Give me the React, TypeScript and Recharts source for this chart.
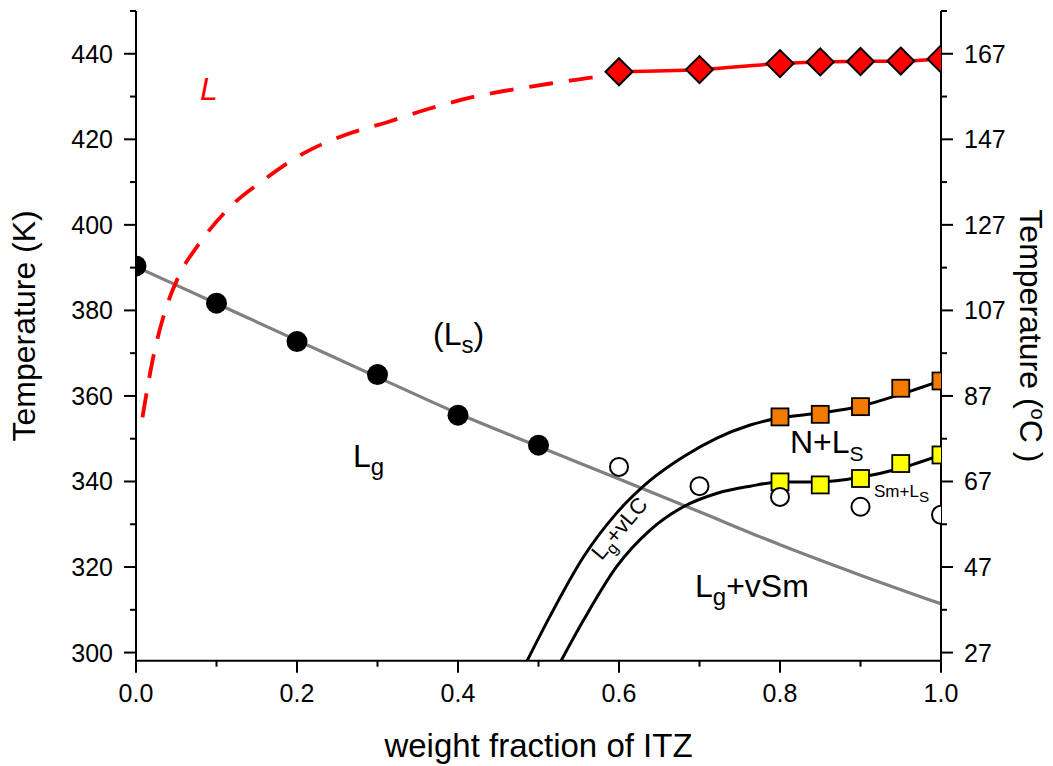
import React from 'react';
import { ComposedChart, Line, XAxis, YAxis, ReferenceDot } from 'recharts';

const FONT = '"Liberation Sans", Arial, Helvetica, sans-serif';

// weight fraction of ITZ (x) and temperature in K (t)
const lgX = [0, 0.1, 0.2, 0.3, 0.4, 0.5];
const lgT = [390.4, 381.7, 372.7, 365.0, 355.5, 348.5];

const openX = [0.6, 0.7, 0.8, 0.9, 1.0];
const openT = [343.4, 338.9, 336.4, 334.1, 332.2];

const grayX = [0, 0.1, 0.2, 0.3, 0.4, 0.5, 0.6, 0.7, 0.8, 0.9, 1.0];
const grayT = [390.2, 381.6, 373.0, 364.4, 355.9, 348.2, 340.6, 332.9, 325.2, 318.1, 311.4];

const sqX = [0.8, 0.85, 0.9, 0.95, 1.0];
const orangeT = [355.1, 355.7, 357.5, 361.8, 363.5];
const yellowT = [339.9, 339.2, 340.7, 344.2, 346.2];

const nCurveX = [0.483, 0.514, 0.556, 0.597, 0.639, 0.68, 0.721, 0.763, 0.8, 0.85, 0.9, 0.95, 1.0];
const nCurveT = [297, 308.4, 322.4, 332.6, 340.3, 345.8, 350.1, 353.2, 354.9, 356.0, 357.6, 360.4, 363.6];

const smCurveX = [0.525, 0.556, 0.597, 0.639, 0.68, 0.721, 0.763, 0.8, 0.85, 0.9, 0.95, 1.0];
const smCurveT = [297, 307.6, 320.1, 328.7, 334.1, 337.2, 338.9, 339.9, 339.9, 341.0, 343.1, 346.2];

const redX = [0.6, 0.7, 0.8, 0.85, 0.9, 0.95, 1.0];
const redT = [435.8, 436.3, 437.7, 438.1, 438.2, 438.3, 438.8];

const dashX = [0.008, 0.0228, 0.034, 0.0546, 0.0754, 0.117, 0.158, 0.208, 0.258, 0.312, 0.365, 0.419, 0.473, 0.527, 0.58, 0.6];
const dashT = [355.0, 370.3, 378.5, 388.6, 394.8, 404.2, 410.4, 416.7, 420.9, 424.0, 427.2, 429.9, 431.8, 433.4, 434.9, 435.7];

const xTicks = [0, 0.1, 0.2, 0.3, 0.4, 0.5, 0.6, 0.7, 0.8, 0.9, 1.0];
const kTicks = [300, 310, 320, 330, 340, 350, 360, 370, 380, 390, 400, 410, 420, 430, 440, 450];
const cTicks = [27, 37, 47, 57, 67, 77, 87, 97, 107, 117, 127, 137, 147, 157, 167, 177];

const X_DOMAIN = [0, 1];

const zip = (xs: number[], ts: number[]) => xs.map((x, i) => ({ x, t: ts[i] }));

const tickText = { fontFamily: FONT, fontSize: 25, fill: '#000' };

function XTick({ x, y, payload }: any) {
  const v = payload.value as number;
  const major = Math.round(v * 10) % 2 === 0;
  return (
    <g>
      <line x1={x} x2={x} y1={y} y2={y + (major ? 12 : 6)} stroke="#000" strokeWidth={2} />
      {major && (
        <text x={x} y={y + 41} textAnchor="middle" {...tickText}>
          {v.toFixed(1)}
        </text>
      )}
    </g>
  );
}

function LeftTick({ x, y, payload }: any) {
  const v = payload.value as number;
  const major = v % 20 === 0;
  return (
    <g>
      <line x1={x - (major ? 12 : 6)} x2={x} y1={y} y2={y} stroke="#000" strokeWidth={2} />
      {major && (
        <text x={x - 23} y={y} dy="0.36em" textAnchor="end" {...tickText}>
          {v}
        </text>
      )}
    </g>
  );
}

function RightTick({ x, y, payload }: any) {
  const c = Math.round(payload.value - 273);
  const major = (c - 27) % 20 === 0;
  return (
    <g>
      <line x1={x} x2={x + (major ? 12 : 6)} y1={y} y2={y} stroke="#000" strokeWidth={2} />
      {major && (
        <text x={x + 23} y={y} dy="0.36em" textAnchor="start" {...tickText}>
          {c}
        </text>
      )}
    </g>
  );
}

function XTitle({ viewBox }: any) {
  if (!viewBox) return null;
  return (
    <text x={viewBox.x + viewBox.width / 2} y={viewBox.y + 96} textAnchor="middle" fontFamily={FONT} fontSize={33} fill="#000">
      weight fraction of ITZ
    </text>
  );
}

function LeftTitle({ viewBox }: any) {
  if (!viewBox) return null;
  const bx = viewBox.x - 21;
  const cy = viewBox.y + viewBox.height / 2 - 10;
  return (
    <text x={bx} y={cy} transform={`rotate(-90 ${bx} ${cy})`} textAnchor="middle" fontFamily={FONT} fontSize={32} fill="#000">
      Temperature (K)
    </text>
  );
}

function RightTitle({ viewBox }: any) {
  if (!viewBox) return null;
  const bx = viewBox.x + 79;
  const cy = viewBox.y + viewBox.height / 2;
  return (
    <text x={bx} y={cy} transform={`rotate(90 ${bx} ${cy})`} textAnchor="middle" fontFamily={FONT} fontSize={32} fill="#000">
      <tspan>Temperature (</tspan>
      <tspan fontSize={20} dy={-11}>o</tspan>
      <tspan dy={11}>C )</tspan>
    </text>
  );
}

function Anno(props: any) {
  const { viewBox, parts, size = 32, subScale = 0.75, shift = 0.25, color = '#000', italic = false, rot = 0, anchor = 'start' } = props;
  if (!viewBox) return null;
  const x = viewBox.x + (viewBox.width || 0) / 2;
  const y = viewBox.y + (viewBox.height || 0) / 2;
  const d = size * shift;
  let down = false;
  return (
    <text
      x={x}
      y={y}
      fontFamily={FONT}
      fontSize={size}
      fill={color}
      fontStyle={italic ? 'italic' : 'normal'}
      textAnchor={anchor}
      transform={rot ? `rotate(${rot} ${x} ${y})` : undefined}
    >
      {parts.map((p: any, i: number) => {
        const dy = p.sub ? (down ? 0 : d) : down ? -d : 0;
        down = !!p.sub;
        return (
          <tspan key={i} dy={dy} fontSize={p.sub ? size * subScale : size}>
            {p.t}
          </tspan>
        );
      })}
    </text>
  );
}

// markers sitting on the frame are cut in half by the plot border, as in the original
function Edge({ p, id, children }: any) {
  const x = p.payload?.x;
  const atMin = x <= X_DOMAIN[0];
  const atMax = x >= X_DOMAIN[1];
  if (!atMin && !atMax) return <g>{children}</g>;
  const cid = `edge-${id}-${p.index}`;
  return (
    <g>
      <defs>
        <clipPath id={cid}>
          <rect x={atMin ? p.cx : p.cx - 40} y={p.cy - 40} width={40} height={80} />
        </clipPath>
      </defs>
      <g clipPath={`url(#${cid})`}>{children}</g>
    </g>
  );
}

const blackDot = (p: any) => (
  <Edge key={`b${p.index}`} p={p} id="b">
    <circle cx={p.cx} cy={p.cy} r={10.5} fill="#000" />
  </Edge>
);
const openDot = (p: any) => (
  <Edge key={`o${p.index}`} p={p} id="o">
    <circle cx={p.cx} cy={p.cy} r={9} fill="#fff" stroke="#000" strokeWidth={2} />
  </Edge>
);
const squareDot = (fill: string, id: string) => (p: any) => (
  <Edge key={`s${id}${p.index}`} p={p} id={id}>
    <rect x={p.cx - 8.5} y={p.cy - 8.5} width={17} height={17} fill={fill} stroke="#000" strokeWidth={1.8} />
  </Edge>
);
const diamondDot = (p: any) => (
  <Edge key={`d${p.index}`} p={p} id="d">
    <path
      d={`M${p.cx},${p.cy - 13.5}L${p.cx + 13.5},${p.cy}L${p.cx},${p.cy + 13.5}L${p.cx - 13.5},${p.cy}Z`}
      fill="#ff0000"
      stroke="#000"
      strokeWidth={2}
    />
  </Edge>
);

export default function App() {
  return (
    <div style={{ position: 'absolute', left: 0, top: 0, width: 1053, height: 766, background: '#fff' }}>
      <ComposedChart width={1053} height={766} margin={{ top: 11, right: 32, bottom: 45.3, left: 56 }}>
        <XAxis
          dataKey="x"
          type="number"
          domain={X_DOMAIN}
          ticks={xTicks}
          interval={0}
          allowDataOverflow
          height={60}
          tickSize={0}
          tickMargin={0}
          tickLine={false}
          axisLine={{ stroke: '#000', strokeWidth: 2 }}
          tick={<XTick />}
          label={<XTitle />}
        />
        <YAxis
          yAxisId="left"
          type="number"
          domain={[298.1, 450]}
          ticks={kTicks}
          interval={0}
          allowDataOverflow
          width={80}
          tickSize={0}
          tickMargin={0}
          tickLine={false}
          axisLine={{ stroke: '#000', strokeWidth: 2 }}
          tick={<LeftTick />}
          label={<LeftTitle />}
        />
        <YAxis
          yAxisId="right"
          orientation="right"
          type="number"
          domain={[298.1, 450]}
          ticks={cTicks.map((c) => c + 273)}
          interval={0}
          allowDataOverflow
          width={80}
          tickSize={0}
          tickMargin={0}
          tickLine={false}
          axisLine={{ stroke: '#000', strokeWidth: 2 }}
          tick={<RightTick />}
          label={<RightTitle />}
        />

        <Line yAxisId="left" data={zip(lgX, lgT)} dataKey="t" stroke="none" strokeWidth={0} dot={blackDot} activeDot={false} isAnimationActive={false} />
        <Line yAxisId="left" data={zip(grayX, grayT)} dataKey="t" type="monotone" stroke="#808080" strokeWidth={3.2} dot={false} activeDot={false} isAnimationActive={false} />
        <Line yAxisId="left" data={zip(nCurveX, nCurveT)} dataKey="t" type="monotone" stroke="#000" strokeWidth={3} dot={false} activeDot={false} isAnimationActive={false} />
        <Line yAxisId="left" data={zip(smCurveX, smCurveT)} dataKey="t" type="monotone" stroke="#000" strokeWidth={3} dot={false} activeDot={false} isAnimationActive={false} />
        <Line yAxisId="left" data={zip(sqX, orangeT)} dataKey="t" stroke="none" strokeWidth={0} dot={squareDot('#f27a00', 'so')} activeDot={false} isAnimationActive={false} />
        <Line yAxisId="left" data={zip(sqX, yellowT)} dataKey="t" stroke="none" strokeWidth={0} dot={squareDot('#ffff00', 'sy')} activeDot={false} isAnimationActive={false} />
        <Line yAxisId="left" data={zip(openX, openT)} dataKey="t" stroke="none" strokeWidth={0} dot={openDot} activeDot={false} isAnimationActive={false} />
        <Line yAxisId="left" data={zip(dashX, dashT)} dataKey="t" type="monotone" stroke="#ff0000" strokeWidth={3.8} strokeDasharray="24 16" dot={false} activeDot={false} isAnimationActive={false} />
        <Line yAxisId="left" data={zip(redX, redT)} dataKey="t" type="monotone" stroke="#ff0000" strokeWidth={3.5} dot={diamondDot} activeDot={false} isAnimationActive={false} />

        <ReferenceDot yAxisId="left" x={0.0795} y={429.3} r={0} fill="none" stroke="none" label={<Anno parts={[{ t: 'L' }]} color="#ff0000" italic />} />
        <ReferenceDot yAxisId="left" x={0.369} y={371.9} r={0} fill="none" stroke="none" label={<Anno parts={[{ t: '(L' }, { t: 's', sub: true }, { t: ')' }]} />} />
        <ReferenceDot yAxisId="left" x={0.2696} y={343.4} r={0} fill="none" stroke="none" label={<Anno parts={[{ t: 'L' }, { t: 'g', sub: true }]} />} />
        <ReferenceDot yAxisId="left" x={0.8124} y={346.6} r={0} fill="none" stroke="none" label={<Anno parts={[{ t: 'N+L' }, { t: 'S', sub: true }]} subScale={0.66} />} />
        <ReferenceDot yAxisId="left" x={0.9168} y={336.4} r={0} fill="none" stroke="none" label={<Anno parts={[{ t: 'Sm+L' }, { t: 'S', sub: true }]} size={17} subScale={0.9} shift={0.3} />} />
        <ReferenceDot yAxisId="left" x={0.6944} y={313.1} r={0} fill="none" stroke="none" label={<Anno parts={[{ t: 'L' }, { t: 'g', sub: true }, { t: '+vSm' }]} />} />
        <ReferenceDot yAxisId="left" x={0.6075} y={327.9} r={0} fill="none" stroke="none" label={<Anno parts={[{ t: 'L' }, { t: 'g', sub: true }, { t: '+vLC' }]} size={22} anchor="middle" rot={-50} />} />
      </ComposedChart>
    </div>
  );
}
